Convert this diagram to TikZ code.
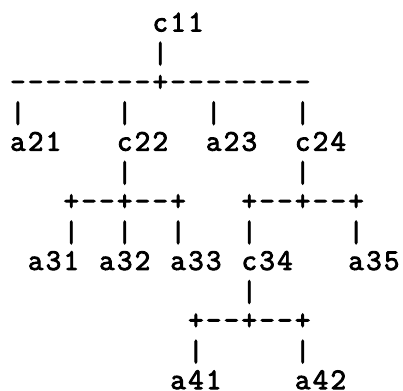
\documentclass[tikz,border=0pt]{standalone}
\usepackage{fontspec}
\usepackage{graphicx}
\newfontfamily\asc{Latin Modern Mono}[FakeBold=3]
\tikzset{ch/.style={anchor=base west, inner sep=0pt, outer sep=0pt, font=\asc\bfseries\fontsize{30pt}{30pt}\selectfont}}
\newcommand\cc[1]{\makebox[17.8pt][c]{#1}}
\newcommand\vb{\cc{\raisebox{-1.5pt}{|}}}
\newcommand\pc[4]{\node[ch] (#3) at ({9pt+17.8pt*#1},{390pt-31.5pt-29.8pt*(#2-1)}) {#4};}
\begin{document}
\begin{tikzpicture}
\useasboundingbox (0,0) rectangle (403pt,390pt);
\pc{8}{1}{c11}{\cc{c}\cc{1}\cc{1}}
\pc{8}{2}{v1}{\vb}
\pc{0}{3}{h1}{\cc{-}\cc{-}\cc{-}\cc{-}\cc{-}\cc{-}\cc{-}\cc{-}\cc{+}\cc{-}\cc{-}\cc{-}\cc{-}\cc{-}\cc{-}\cc{-}\cc{-}}
\pc{0}{4}{v21}{\vb}
\pc{6}{4}{v22}{\vb}
\pc{11}{4}{v23}{\vb}
\pc{16}{4}{v24}{\vb}
\pc{0}{5}{a21}{\cc{a}\cc{2}\cc{1}}
\pc{6}{5}{c22}{\cc{c}\cc{2}\cc{2}}
\pc{11}{5}{a23}{\cc{a}\cc{2}\cc{3}}
\pc{16}{5}{c24}{\cc{c}\cc{2}\cc{4}}
\pc{6}{6}{v22b}{\vb}
\pc{16}{6}{v24b}{\vb}
\pc{3}{7}{h22}{\cc{+}\cc{-}\cc{-}\cc{+}\cc{-}\cc{-}\cc{+}}
\pc{13}{7}{h24}{\cc{+}\cc{-}\cc{-}\cc{+}\cc{-}\cc{-}\cc{+}}
\pc{3}{8}{v31}{\vb}
\pc{6}{8}{v32}{\vb}
\pc{9}{8}{v33}{\vb}
\pc{13}{8}{v34}{\vb}
\pc{19}{8}{v35}{\vb}
\pc{1}{9}{a31}{\cc{a}\cc{3}\cc{1}}
\pc{5}{9}{a32}{\cc{a}\cc{3}\cc{2}}
\pc{9}{9}{a33}{\cc{a}\cc{3}\cc{3}}
\pc{13}{9}{c34}{\cc{c}\cc{3}\cc{4}}
\pc{19}{9}{a35}{\cc{a}\cc{3}\cc{5}}
\pc{13}{10}{v34b}{\vb}
\pc{10}{11}{h34}{\cc{+}\cc{-}\cc{-}\cc{+}\cc{-}\cc{-}\cc{+}}
\pc{10}{12}{v41}{\vb}
\pc{16}{12}{v42}{\vb}
\pc{9}{13}{a41}{\cc{a}\cc{4}\cc{1}}
\pc{16}{13}{a42}{\cc{a}\cc{4}\cc{2}}
\end{tikzpicture}
\end{document}
